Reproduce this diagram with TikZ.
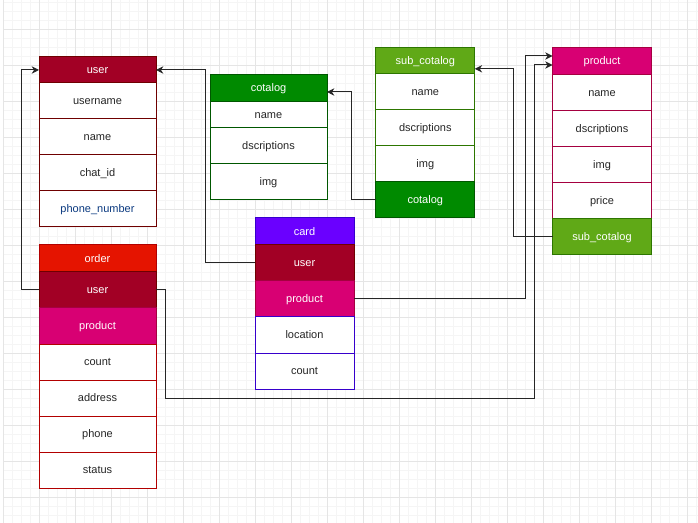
\documentclass[tikz,border=0pt]{standalone}
\usepackage{fontspec}
\setmainfont{Liberation Sans}
\usepackage{xcolor}
\usepackage{tikz}
\usetikzlibrary{positioning,arrows.meta,calc}
\definecolor{crimson}{HTML}{A20025}
\definecolor{crimsonline}{HTML}{6F0000}
\definecolor{redfill}{HTML}{E51400}
\definecolor{redline}{HTML}{B20000}
\definecolor{magenta}{HTML}{D80073}
\definecolor{magentaline}{HTML}{A50040}
\definecolor{greenfill}{HTML}{008A00}
\definecolor{greenline}{HTML}{005700}
\definecolor{limefill}{HTML}{60A917}
\definecolor{limeline}{HTML}{2D7600}
\definecolor{violet}{HTML}{6A00FF}
\definecolor{violetline}{HTML}{3700CC}
\definecolor{fieldblue}{HTML}{0B3A80}

\begin{document}
\begin{tikzpicture}[x=0.75pt,y=-0.75pt,
every node/.style={font=\fontsize{8.25}{10}\selectfont, inner sep=0pt, outer sep=0pt, text height=7.4pt, text depth=1.8pt, draw, line width=0.75pt, text=black!85},
wide/.style={minimum width=87.75pt},
narrow/.style={minimum width=74.25pt},
field/.style={minimum height=27pt, fill=white},
head/.style={minimum height=20.25pt, text=white},
colfield/.style={minimum height=27pt, text=white},
link/.style={draw=black!85, line width=0.75pt, -{Stealth[length=5.5pt,width=5.5pt]}},
minor/.style={draw=black!4, line width=0.5pt},
major/.style={draw=black!10, line width=0.75pt}]
\useasboundingbox (0,0) rectangle (698,523);
\fill[white] (0,0) rectangle (698,523);
\draw[minor,shift={(3.7,29.5)}] (0,-29.5) grid[step=6.75pt] (694.3,493.5);
\draw[major,shift={(3.7,29.5)}] (0,-29.5) grid[step=27pt] (694.3,493.5);

\node[wide,head,fill=crimson,draw=crimsonline] (uhead) at (97.5,70) {user};
\foreach \y/\t/\n in {101/username/uname,137/name/urname,173/chat\_id/uchat} {
\node[wide,field,draw=crimsonline] (\n) at (97.5,\y) {\t};
}
\node[wide,field,draw=crimsonline,text=fieldblue] (uphone) at (97.5,209) {phone\_number};

\node[wide,head,fill=redfill,draw=redline] (ohead) at (97.5,258.5) {order};
\node[wide,colfield,fill=crimson,draw=crimsonline] (ouser) at (97.5,290) {user};
\node[wide,colfield,fill=magenta,draw=magentaline] (oprod) at (97.5,326) {product};
\foreach \y/\t/\n in {362/count/ocount,398/address/oaddr,434/phone/ophone,470/status/ostatus} {
\node[wide,field,draw=redline] (\n) at (97.5,\y) {\t};
}

\node[wide,head,fill=greenfill,draw=greenline] (chead) at (268.5,88) {cotalog};
\node[wide,fill=white,draw=greenline,minimum height=20pt] (cname) at (268.5,115) {name};
\foreach \y/\t/\n in {146/dscriptions/cdesc,182/img/cimg} {
\node[wide,field,draw=greenline] (\n) at (268.5,\y) {\t};
}

\node[narrow,head,fill=violet,draw=violetline] (khead) at (304.5,231.5) {card};
\node[narrow,colfield,fill=crimson,draw=crimsonline] (kuser) at (304.5,263) {user};
\node[narrow,colfield,fill=magenta,draw=magentaline] (kprod) at (304.5,299) {product};
\foreach \y/\t/\n in {335/location/kloc,371/count/kcount} {
\node[narrow,field,draw=violetline] (\n) at (304.5,\y) {\t};
}

\node[narrow,head,fill=limefill,draw=limeline] (shead) at (425.3,60.8) {sub\_cotalog};
\foreach \y/\t/\n in {92/name/sname,128/dscriptions/sdesc,164/img/simg} {
\node[narrow,field,draw=limeline] (\n) at (425.3,\y) {\t};
}
\node[narrow,colfield,fill=greenfill,draw=greenline] (scot) at (425.3,200) {cotalog};

\node[narrow,head,fill=magenta,draw=magentaline] (phead) at (602,61) {product};
\foreach \y/\t/\n in {92.7/name/pname,128.7/dscriptions/pdesc,164.5/img/pimg,200.3/price/pprice} {
\node[narrow,field,draw=magentaline] (\n) at (602,\y) {\t};
}
\node[narrow,colfield,fill=limefill,draw=limeline] (psub) at (602,236.3) {sub\_cotalog};

\draw[link] (ouser.west) -- ++(-18,0) |- (uhead.west);
\draw[link] (kuser.west) -- ++(-50,0) |- (uhead.east);
\draw[link] (scot.west) -- ++(-24,0) |- ($(chead.east)+(0,4)$);
\draw[link] (psub.west) -- ++(-39,0) |- ($(shead.east)+(0,8)$);
\draw[link] (kprod.east) -- ++(171,0) |- ($(phead.west)+(0,-5)$);
\draw[link] (ouser.east) -- ++(9,0) -- ++(0,108) -- ++(369,0) |- ($(phead.west)+(0,4)$);
\end{tikzpicture}
\end{document}
